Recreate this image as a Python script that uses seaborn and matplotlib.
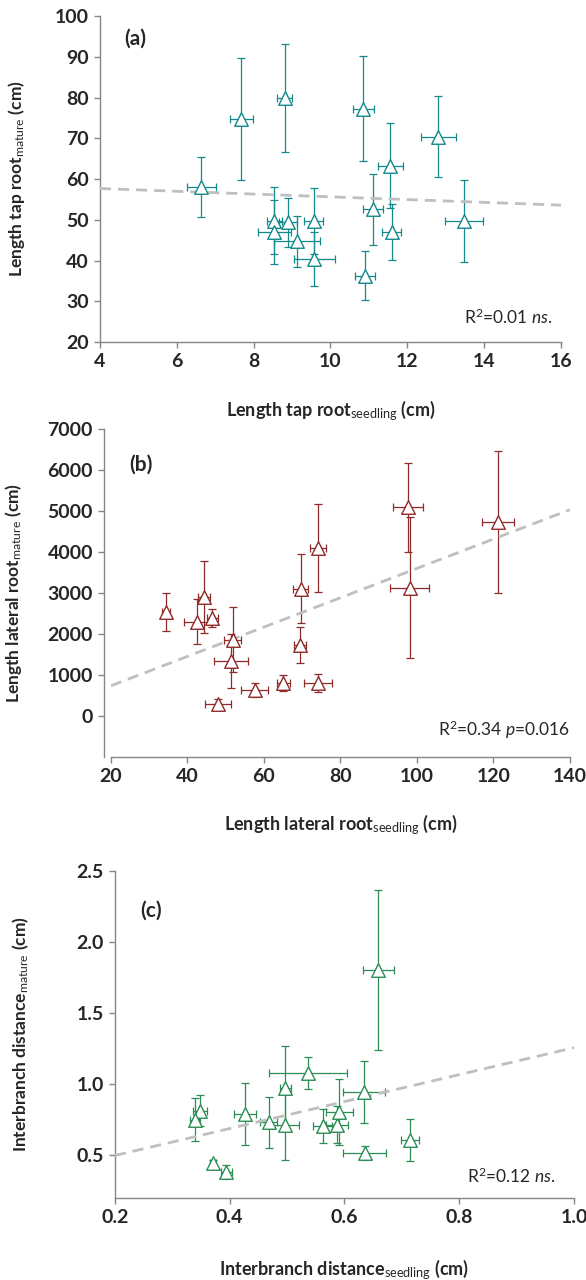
import matplotlib
matplotlib.use("Agg")
from matplotlib import pyplot as plt
from matplotlib.ticker import FormatStrFormatter
import seaborn as sns
import pandas as pd
import numpy as np

# (a) tap root length
tap_seedling = [6.64, 7.68, 8.81, 10.85, 11.56, 12.81, 13.48, 11.10, 11.59, 10.90, 9.58, 9.56, 9.13, 8.90, 8.54, 8.54]
tap_seedling_err = [0.37, 0.30, 0.20, 0.27, 0.32, 0.45, 0.50, 0.26, 0.25, 0.27, 0.53, 0.25, 0.60, 0.23, 0.19, 0.43]
tap_mature = [58.0, 74.7, 79.9, 77.3, 63.3, 70.4, 49.7, 52.6, 47.0, 36.3, 40.4, 49.7, 44.7, 49.4, 49.8, 47.0]
tap_mature_err = [7.3, 15.0, 13.3, 12.9, 10.5, 10.0, 10.0, 8.7, 6.8, 6.0, 6.7, 8.2, 6.3, 6.0, 8.2, 7.8]

# (b) lateral root length
lat_seedling = [34.3, 42.6, 44.3, 46.5, 51.8, 51.3, 48.1, 57.6, 65.0, 74.1, 69.4, 69.6, 74.1, 97.7, 98.1, 121.1]
lat_seedling_err = [1.0, 3.5, 1.5, 1.5, 2.3, 4.5, 3.4, 3.5, 1.7, 3.6, 1.5, 2.0, 2.2, 3.9, 5.1, 4.2]
lat_mature = [2527, 2301, 2906, 2398, 1865, 1348, 299, 638, 807, 807, 1720, 3108, 4093, 5086, 3133, 4723]
lat_mature_err = [460, 545, 880, 220, 800, 660, 120, 170, 200, 220, 440, 830, 1070, 1080, 1730, 1736]

# (c) interbranch distance
ib_seedling = [0.659, 0.537, 0.497, 0.634, 0.427, 0.468, 0.497, 0.562, 0.587, 0.591, 0.635, 0.714, 0.348, 0.339, 0.371, 0.394]
ib_seedling_err = [0.027, 0.068, 0.010, 0.036, 0.019, 0.015, 0.023, 0.016, 0.020, 0.023, 0.038, 0.016, 0.012, 0.008, 0.005, 0.010]
ib_mature = [1.804, 1.078, 0.973, 0.945, 0.790, 0.731, 0.710, 0.704, 0.716, 0.805, 0.516, 0.610, 0.814, 0.751, 0.446, 0.381]
ib_mature_err = [0.56, 0.115, 0.295, 0.22, 0.22, 0.18, 0.24, 0.12, 0.13, 0.23, 0.047, 0.147, 0.11, 0.15, 0.02, 0.05]

sns.set_theme(style="ticks")
plt.rcParams["font.family"] = ["Lato", "DejaVu Sans"]
plt.rcParams["mathtext.fontset"] = "custom"
plt.rcParams["mathtext.rm"] = "Lato"
plt.rcParams["mathtext.it"] = "Lato:italic"
plt.rcParams["mathtext.bf"] = "Lato:bold"

axis_grey = "#868686"
trend_grey = "#BFBFBF"

panels = [
    dict(x=tap_seedling, xerr=tap_seedling_err, y=tap_mature, yerr=tap_mature_err,
         color="#13898A", rect=[0.1706, 0.7328, 0.7867, 0.2547],
         xlim=(4, 16), xticks=[4, 6, 8, 10, 12, 14, 16], xfmt="%d",
         ylim=(20, 100), yticks=[20, 30, 40, 50, 60, 70, 80, 90, 100], yfmt="%d",
         xlabel=r"Length tap root$_{\mathrm{seedling}}$ (cm)",
         ylabel=r"Length tap root$_{\mathrm{mature}}$ (cm)",
         tag="(a)", tag_pos=(0.052, 0.93),
         stat=r"R$^{\mathrm{2}}$=0.01 $\mathit{ns.}$", stat_pos=(0.983, 0.077),
         ylab_x=-0.158, xlab_y=-0.172, offset=0),
    dict(x=lat_seedling, xerr=lat_seedling_err, y=lat_mature, yerr=lat_mature_err,
         color="#8E2A2A", rect=[0.1894, 0.4086, 0.7833, 0.2563],
         xlim=(20, 140), xticks=[20, 40, 60, 80, 100, 120, 140], xfmt="%d",
         ylim=(-1000, 7000), yticks=[0, 1000, 2000, 3000, 4000, 5000, 6000, 7000], yfmt="%d",
         xlabel=r"Length lateral root$_{\mathrm{seedling}}$ (cm)",
         ylabel=r"Length lateral root$_{\mathrm{mature}}$ (cm)",
         tag="(b)", tag_pos=(0.04, 0.89),
         stat=r"R$^{\mathrm{2}}$=0.34 $\mathit{p}$=0.016", stat_pos=(1.0, 0.082),
         ylab_x=-0.19, xlab_y=-0.168, offset=5),
    dict(x=ib_seedling, xerr=ib_seedling_err, y=ib_mature, yerr=ib_mature_err,
         color="#2A8E54", rect=[0.1962, 0.0641, 0.7833, 0.2555],
         xlim=(0.2, 1.0), xticks=[0.2, 0.4, 0.6, 0.8, 1.0], xfmt="%.1f",
         ylim=(0.2, 2.5), yticks=[0.5, 1.0, 1.5, 2.0, 2.5], yfmt="%.1f",
         xlabel=r"Interbranch distance$_{\mathrm{seedling}}$ (cm)",
         ylabel=r"Interbranch distance$_{\mathrm{mature}}$ (cm)",
         tag="(c)", tag_pos=(0.055, 0.88),
         stat=r"R$^{\mathrm{2}}$=0.12 $\mathit{ns.}$", stat_pos=(0.96, 0.067),
         ylab_x=-0.183, xlab_y=-0.183, offset=0),
]

fig = plt.figure(figsize=(5.86, 12.8), dpi=100)
fig.set_facecolor("white")

for p in panels:
    ax = fig.add_axes(p["rect"])
    df = pd.DataFrame({"x": p["x"], "y": p["y"], "xerr": p["xerr"], "yerr": p["yerr"]})
    ax.set_xlim(p["xlim"])
    ax.set_ylim(p["ylim"])

    ax.errorbar(df.x, df.y, xerr=df.xerr, yerr=df.yerr, fmt="none",
                ecolor=p["color"], elinewidth=0.9, capsize=3, capthick=0.9, zorder=2)
    sns.regplot(data=df, x="x", y="y", scatter=False, ci=None, truncate=False, ax=ax,
                line_kws=dict(color=trend_grey, lw=2, ls=(0, (4, 2.5)), zorder=3))
    sns.scatterplot(data=df, x="x", y="y", marker="^", s=95, facecolor="white",
                    edgecolor=p["color"], linewidth=1.0, ax=ax, zorder=4)

    ax.set_xlim(p["xlim"])
    ax.set_ylim(p["ylim"])
    ax.set_xticks(p["xticks"])
    ax.set_yticks(p["yticks"])
    ax.xaxis.set_major_formatter(FormatStrFormatter(p["xfmt"]))
    ax.yaxis.set_major_formatter(FormatStrFormatter(p["yfmt"]))

    sns.despine(ax=ax)
    for side in ("left", "bottom"):
        ax.spines[side].set_color(axis_grey)
        ax.spines[side].set_linewidth(1.0)
    if p["offset"]:
        ax.spines["left"].set_position(("outward", p["offset"]))
    ax.tick_params(axis="both", direction="out", length=4, width=1.0, color=axis_grey,
                   labelsize=14, pad=4)
    for lab in ax.get_xticklabels() + ax.get_yticklabels():
        lab.set_fontweight("bold")

    ax.set_xlabel(p["xlabel"], fontsize=13, fontweight="bold")
    ax.set_ylabel(p["ylabel"], fontsize=12.5, fontweight="bold")
    ax.xaxis.set_label_coords(0.5, p["xlab_y"])
    ax.yaxis.set_label_coords(p["ylab_x"], 0.5)

    ax.text(p["tag_pos"][0], p["tag_pos"][1], p["tag"], transform=ax.transAxes,
            fontsize=15, fontweight="bold", va="center", ha="left")
    ax.text(p["stat_pos"][0], p["stat_pos"][1], p["stat"], transform=ax.transAxes,
            fontsize=12.5, va="center", ha="right")

fig.savefig("out.png", dpi=100, facecolor="white")
